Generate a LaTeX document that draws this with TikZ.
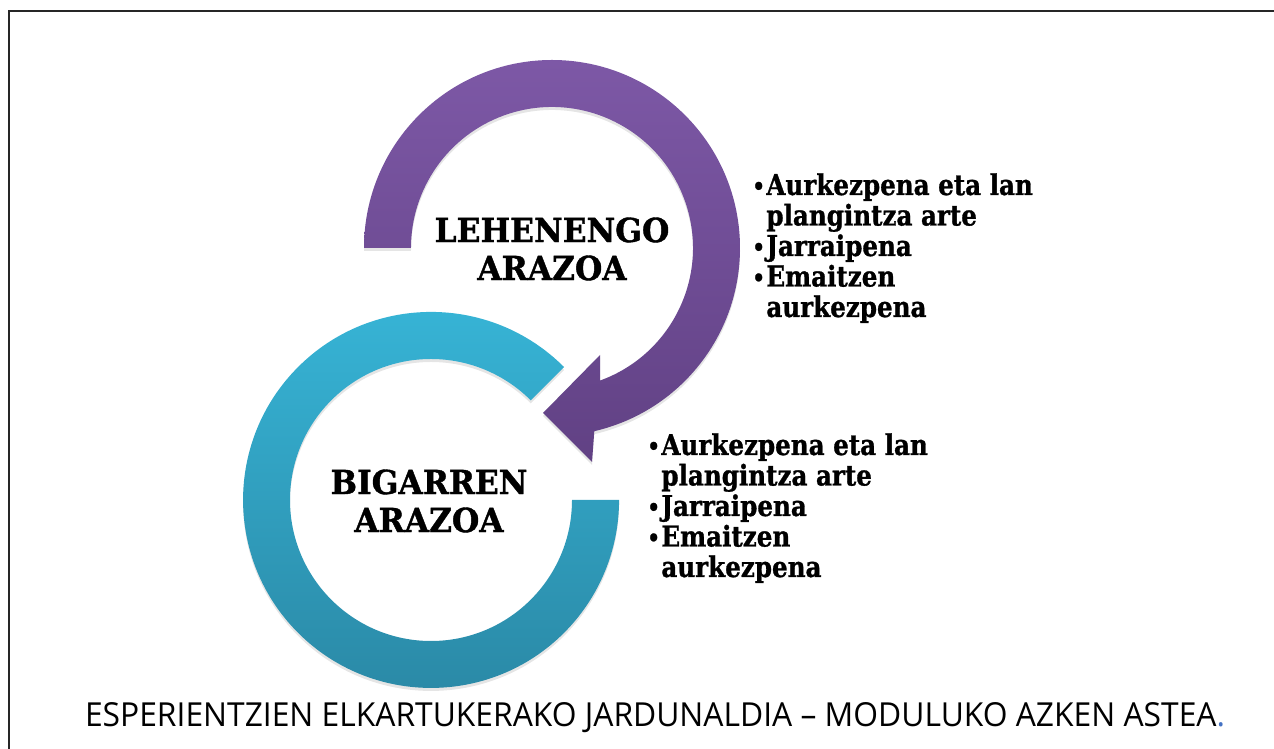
\documentclass[tikz,border=0pt]{standalone}
\usepackage{fontspec}
\usetikzlibrary{shadows}
\newfontfamily\titlefont{DejaVu Serif}[FakeStretch=0.95,BoldFeatures={FakeBold=1.2}]
\newfontfamily\slabfont{DejaVu Serif}[FakeStretch=0.86,BoldFeatures={FakeBold=1}]
\newfontfamily\footfont{Open Sans}
\definecolor{purpletop}{HTML}{7D58A6}
\definecolor{purplebot}{HTML}{614184}
\definecolor{tealtop}{HTML}{37B5D7}
\definecolor{tealbot}{HTML}{2A88A5}
\definecolor{dotblue}{HTML}{4472C4}
\newcommand{\bul}{\makebox[7pt][l]{\raisebox{0.3pt}{\scalebox{0.8}{•}}}}
\newcommand{\ind}{\hspace*{7pt}}
\begin{document}
\begin{tikzpicture}[x=0.5pt,y=0.5pt,
  framestyle/.style={line width=1pt,draw=black!85},
  arcshadow/.style={drop shadow={shadow xshift=0pt,shadow yshift=-1.5pt,opacity=0.1,fill=black}},
  purplearc/.style={arcshadow,top color=purpletop,bottom color=purplebot,draw=none},
  tealarc/.style={arcshadow,top color=tealtop,bottom color=tealbot,draw=none},
  titlenode/.style={align=center,inner sep=0pt,font=\titlefont\bfseries\fontsize{16.5}{19}\selectfont},
  listnode/.style={align=left,inner sep=0pt,font=\slabfont\bfseries\fontsize{14.3}{15.25}\selectfont},
  footnode/.style={inner sep=0pt,font=\footfont}]
\useasboundingbox (0,0) rectangle (1274,749);
\draw[framestyle] (9,0) -- (9,738) -- (1274,738);
% teal ring
\path[tealarc] (564,382) arc[start angle=45,end angle=360,radius=188]
  -- (572,249) arc[start angle=360,end angle=45,radius=141] -- cycle;
% purple circular arrow
\path[purplearc] (364,501) arc[start angle=180,end angle=-77,radius=188]
  -- (592,287) -- (543,336) -- (600,394) -- (600.2,368.5)
  arc[start angle=-70,end angle=180,radius=141] -- cycle;
% titles
\node[titlenode] (t1) at (552,500) {LEHENENGO\\ARAZOA};
\node[titlenode] (t2) at (429,248) {BIGARREN\\ARAZOA};
% lists
\node[listnode,anchor=base west] (l1) at (752,432)
  {\bul Aurkezpena eta lan\\\ind plangintza arte\\\bul Jarraipena\\\bul Emaitzen\\\ind aurkezpena};
\node[listnode,anchor=base west] (l2) at (647,172)
  {\bul Aurkezpena eta lan\\\ind plangintza arte\\\bul Jarraipena\\\bul Emaitzen\\\ind aurkezpena};
% footer
\node[footnode] (f) at (655,31)
  {\resizebox{570pt}{12pt}{ESPERIENTZIEN ELKARTUKERAKO JARDUNALDIA – MODULUKO AZKEN ASTEA\textcolor{dotblue}{.}}};
\end{tikzpicture}
\end{document}
